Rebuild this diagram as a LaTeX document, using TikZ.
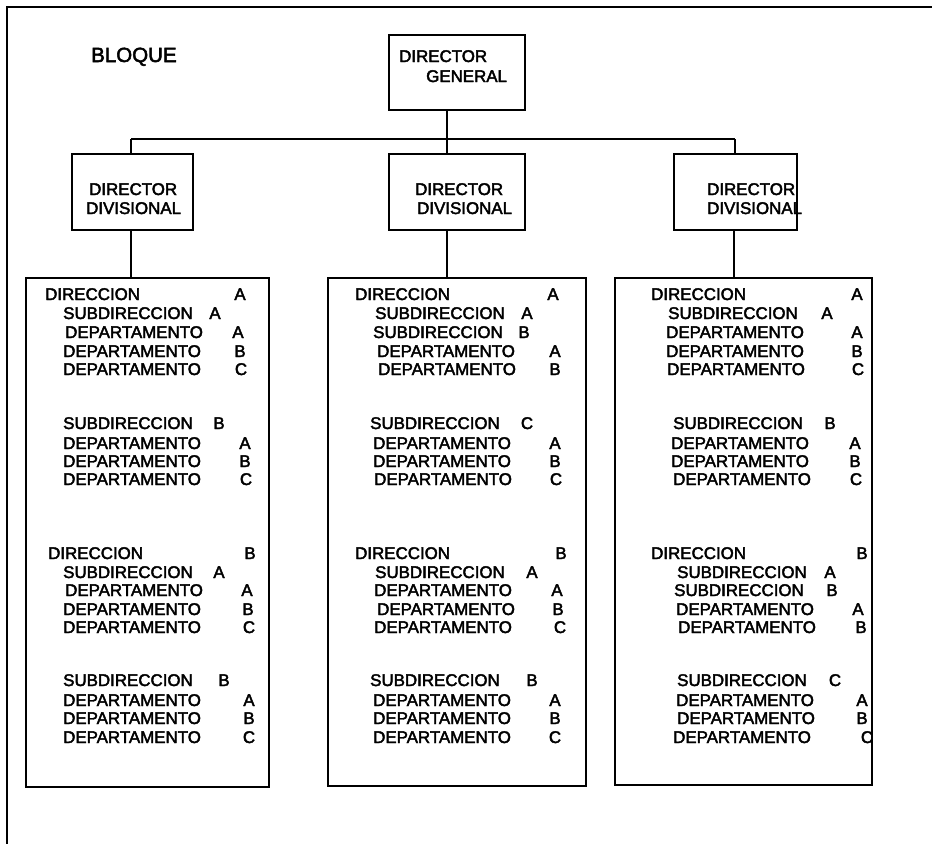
\documentclass[tikz,border=0pt]{standalone}
\usepackage{fontspec}
\setmainfont{Liberation Sans}
\newfontfamily\inkfont{Liberation Sans}[FakeBold=2.5]
\usetikzlibrary{calc}

% one line of a division list: label node and its letter node
\newcommand\orgrow[6]{%
  \node[rowtext] (#1) at (#2,#3+6) {#4};
  \node[rowletter] (#1l) at (#5,#3+6) {#6};}

\tikzset{
  frameline/.style={line width=1.4pt},
  boxline/.style={draw, line width=2pt, inner sep=0pt, anchor=north west},
  link/.style={line width=1.6pt},
  rowtext/.style={inner sep=0pt, anchor=base west, font=\inkfont\fontsize{16.9}{20}\selectfont},
  rowletter/.style={inner sep=0pt, anchor=base, font=\inkfont\fontsize{16.9}{20}\selectfont},
}

\begin{document}
\begin{tikzpicture}[x=1pt,y=-1pt]
\useasboundingbox (0,0) rectangle (932,844);

% page frame (top and left edges)
\coordinate (fTL) at (7,7);
\coordinate (fTR) at (932,7);
\coordinate (fBL) at (7,844);
\draw[frameline] (fTR) -- (fTL) -- (fBL);

\node[rowtext, font=\inkfont\fontsize{20.5}{24}\selectfont] (bloque) at (91,62) {BLOQUE};

% director general
\node[boxline, minimum width=136pt, minimum height=75pt] (dg) at (388,34) {};
\node[rowtext] (dgt1) at (399,62) {DIRECTOR};
\node[rowtext] (dgt2) at (426,82) {GENERAL};

% divisional directors
\node[boxline, minimum width=121pt, minimum height=76pt] (dv1) at (71,153) {};
\node[boxline, minimum width=136pt, minimum height=76pt] (dv2) at (388,153) {};
\node[boxline, minimum width=123pt, minimum height=76pt] (dv3) at (673,153) {};
\node[rowtext] (dv1a) at (89,195) {DIRECTOR};
\node[rowtext] (dv1b) at (86,214) {DIVISIONAL};
\node[rowtext] (dv2a) at (415,195) {DIRECTOR};
\node[rowtext] (dv2b) at (417,214) {DIVISIONAL};
\node[rowtext] (dv3a) at (707,195) {DIRECTOR};
\node[rowtext] (dv3b) at (707,214) {DIVISIONAL};

% division blocks
\node[boxline, minimum width=243pt, minimum height=509pt] (bk1) at (25,277) {};
\node[boxline, minimum width=258pt, minimum height=508pt] (bk2) at (327,277) {};
\node[boxline, minimum width=257pt, minimum height=507pt] (bk3) at (614,277) {};

% connectors
\coordinate (busL) at (131,139);
\coordinate (busM) at (447,139);
\coordinate (busR) at (735,139);
\coordinate (dropR) at (734,139);
\draw[link] (dg.south -| busM) -- (busM);
\draw[link] (busL) -- (busR);
\draw[link] (busL) -- (busL |- dv1.north);
\draw[link] (busM) -- (busM |- dv2.north);
\draw[link] (busR) -- (busR |- dv3.north);
\draw[link] (dv1.south -| busL) -- (busL |- bk1.north);
\draw[link] (dv2.south -| busM) -- (busM |- bk2.north);
\draw[link] (dv3.south -| dropR) -- (dropR |- bk3.north);

% block 1
\orgrow{a1}{45}{294}{DIRECCION}{240}{A}
\orgrow{a2}{63}{313}{SUBDIRECCION}{215}{A}
\orgrow{a3}{65}{332}{DEPARTAMENTO}{238}{A}
\orgrow{a4}{63}{351}{DEPARTAMENTO}{240}{B}
\orgrow{a5}{63}{369}{DEPARTAMENTO}{241}{C}
\orgrow{a6}{63}{423}{SUBDIRECCION}{219}{B}
\orgrow{a7}{63}{443}{DEPARTAMENTO}{245}{A}
\orgrow{a8}{63}{461}{DEPARTAMENTO}{245}{B}
\orgrow{a9}{63}{479}{DEPARTAMENTO}{246}{C}
\orgrow{a10}{48}{553}{DIRECCION}{250}{B}
\orgrow{a11}{63}{572}{SUBDIRECCION}{219}{A}
\orgrow{a12}{65}{590}{DEPARTAMENTO}{247}{A}
\orgrow{a13}{63}{609}{DEPARTAMENTO}{248}{B}
\orgrow{a14}{63}{627}{DEPARTAMENTO}{249}{C}
\orgrow{a15}{63}{680}{SUBDIRECCION}{224}{B}
\orgrow{a16}{63}{700}{DEPARTAMENTO}{249}{A}
\orgrow{a17}{63}{718}{DEPARTAMENTO}{249}{B}
\orgrow{a18}{63}{737}{DEPARTAMENTO}{249}{C}

% block 2
\orgrow{b1}{355}{294}{DIRECCION}{553}{A}
\orgrow{b2}{375}{313}{SUBDIRECCION}{527}{A}
\orgrow{b3}{373}{332}{SUBDIRECCION}{524}{B}
\orgrow{b4}{377}{351}{DEPARTAMENTO}{555}{A}
\orgrow{b5}{378}{369}{DEPARTAMENTO}{555}{B}
\orgrow{b6}{370}{423}{SUBDIRECCION}{527}{C}
\orgrow{b7}{373}{443}{DEPARTAMENTO}{555}{A}
\orgrow{b8}{373}{461}{DEPARTAMENTO}{555}{B}
\orgrow{b9}{374}{479}{DEPARTAMENTO}{556}{C}
\orgrow{b10}{355}{553}{DIRECCION}{561}{B}
\orgrow{b11}{375}{572}{SUBDIRECCION}{532}{A}
\orgrow{b12}{374}{590}{DEPARTAMENTO}{557}{A}
\orgrow{b13}{377}{609}{DEPARTAMENTO}{558}{B}
\orgrow{b14}{374}{627}{DEPARTAMENTO}{560}{C}
\orgrow{b15}{370}{680}{SUBDIRECCION}{532}{B}
\orgrow{b16}{373}{700}{DEPARTAMENTO}{555}{A}
\orgrow{b17}{373}{718}{DEPARTAMENTO}{555}{B}
\orgrow{b18}{373}{737}{DEPARTAMENTO}{555}{C}

% block 3
\orgrow{c1}{651}{294}{DIRECCION}{857}{A}
\orgrow{c2}{668}{313}{SUBDIRECCION}{827}{A}
\orgrow{c3}{666}{332}{DEPARTAMENTO}{857}{A}
\orgrow{c4}{666}{351}{DEPARTAMENTO}{857}{B}
\orgrow{c5}{667}{369}{DEPARTAMENTO}{858}{C}
\orgrow{c6}{673}{423}{SUBDIRECCION}{830}{B}
\orgrow{c7}{671}{443}{DEPARTAMENTO}{855}{A}
\orgrow{c8}{671}{461}{DEPARTAMENTO}{855}{B}
\orgrow{c9}{673}{479}{DEPARTAMENTO}{856}{C}
\orgrow{c10}{651}{553}{DIRECCION}{862}{B}
\orgrow{c11}{677}{572}{SUBDIRECCION}{830}{A}
\orgrow{c12}{674}{590}{SUBDIRECCION}{832}{B}
\orgrow{c13}{676}{609}{DEPARTAMENTO}{858}{A}
\orgrow{c14}{678}{627}{DEPARTAMENTO}{861}{B}
\orgrow{c15}{677}{680}{SUBDIRECCION}{835}{C}
\orgrow{c16}{676}{700}{DEPARTAMENTO}{862}{A}
\orgrow{c17}{677}{718}{DEPARTAMENTO}{862}{B}
\orgrow{c18}{673}{737}{DEPARTAMENTO}{867}{C}
\end{tikzpicture}
\end{document}
